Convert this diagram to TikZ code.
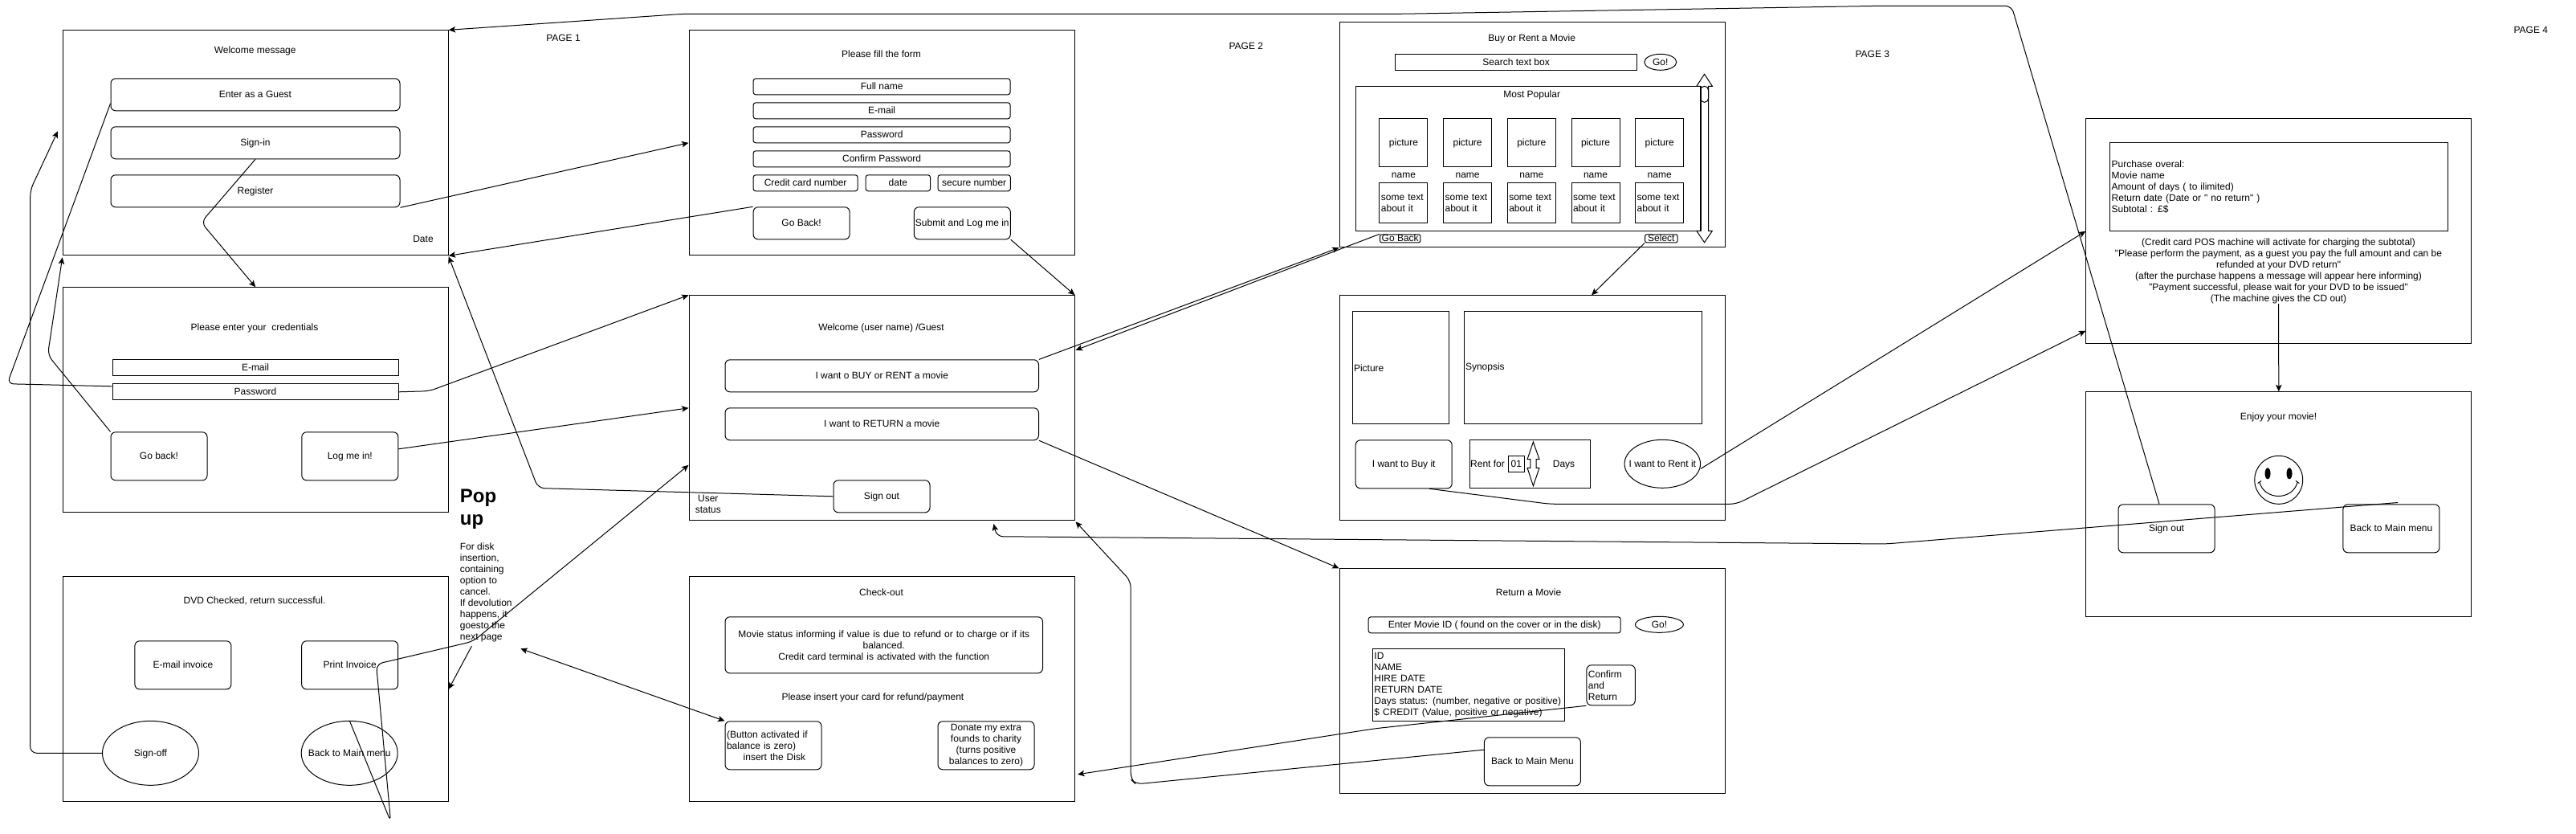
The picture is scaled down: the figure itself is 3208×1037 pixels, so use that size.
\documentclass[tikz,border=0pt]{standalone}
\usepackage{fontspec}
\usepackage{tikz}
\usetikzlibrary{arrows.meta,shapes.geometric}
\newfontfamily\uifont{Liberation Sans}

\begin{document}
\begin{tikzpicture}[x=1pt,y=-1pt,line width=1pt,>={Stealth[length=8.5pt,width=7.5pt,inset=2pt]},node distance=79.7pt,
                    every node/.style={font=\uifont\fontsize{12}{14}\selectfont,
                      inner sep=0pt,text height=9pt,text depth=1pt}]
  \tikzstyle{frame}=[draw,anchor=north west,minimum width=480pt,minimum height=280pt]
  \tikzstyle{sq}=[draw,anchor=north west]
  \tikzstyle{field}=[draw,anchor=north west,rounded corners=3pt,minimum height=20pt]
  \tikzstyle{btn}=[draw,anchor=north west,rounded corners=6pt,minimum width=120pt,minimum height=60pt]
  \tikzstyle{wide}=[btn,minimum width=360pt,minimum height=40pt]
  \tikzstyle{oval}=[draw,ellipse,minimum width=120pt,minimum height=80pt]
  \tikzstyle{para}=[text height=,text depth=]
  \tikzstyle{leftpara}=[para,align=left,inner xsep=2pt]
  \tikzstyle{cell}=[draw,minimum width=60pt,minimum height=60pt]
  \tikzstyle{note}=[draw,para,align=left,inner xsep=2pt,text width=56pt,minimum height=50pt]
  \tikzstyle{wire}=[rounded corners=8pt]
  \tikzstyle{link}=[wire,->]

  \useasboundingbox (0,0) rectangle (3208,1037);

  % page 1
  \node[frame] (welcomeframe) at (77.7,37.3) {};
  \node (welcometitle) at (317.7,62.7) {Welcome message};
  \node[wide] (guest) at (137.5,97.3) {Enter as a Guest};
  \node[wide] (signin) at (137.5,157.3) {Sign-in};
  \node[wide] (register) at (137.5,217.3) {Register};
  \node (datelabel) at (527,297.3) {Date};
  \node (pageone) at (701.5,47.7) {PAGE 1};

  \node[frame] (credframe) at (77.7,357.3) {};
  \node (credtitle) at (317,407.7) {Please enter your\ \ credentials};
  \node[sq,minimum width=356pt,minimum height=20pt] (credmail) at (139.5,447.3) {E-mail};
  \node[sq,minimum width=356pt,minimum height=20pt] (password) at (139.5,477.3) {Password};
  \node[btn] (goback) at (137.5,537.3) {Go back!};
  \node[btn] (logmein) at (375.3,537.3) {Log me in!};

  \node[para,anchor=north west,align=left,font=\uifont\bfseries\fontsize{24}{28}\selectfont] (popuphead) at (572.4,608) {Pop\\up};
  \node[leftpara,anchor=north west,inner xsep=0pt] (popuptext) at (572.4,675) {For disk\\insertion,\\containing\\option to\\cancel.\\If devolution\\happens, it\\goesto the\\next page};
  \coordinate (popupedge) at (648.3,807.3);

  \node[frame] (dvdframe) at (77.7,717.3) {};
  \node (dvdtitle) at (317,747.7) {DVD Checked, return successful.};
  \node[btn] (mailinvoice) at (167.4,797.3) {E-mail invoice};
  \node[btn] (printinvoice) at (375.2,797.3) {Print Invoice};
  \node[oval] (signoff) at (187.5,937.3) {Sign-off};
  \node[oval] (dvdback) at (435.2,937.3) {\makebox[0pt]{Back to Main menu}};

  % page 2
  \node[frame] (formframe) at (857.5,37.3) {};
  \node (formtitle) at (1097.5,67.7) {Please fill the form};
  \node[field,minimum width=320pt] (fullname) at (937.6,97.3) {Full name};
  \node[field,minimum width=320pt] (formmail) at (937.6,127.3) {E-mail};
  \node[field,minimum width=320pt] (formpass) at (937.6,157.3) {Password};
  \node[field,minimum width=320pt] (formconfirm) at (937.6,187.3) {Confirm Password};
  \node[field,minimum width=130pt] (cardnumber) at (937.6,217.3) {Credit card number};
  \node[field,minimum width=80.5pt] (carddate) at (1077.6,217.3) {date};
  \node[field,minimum width=90.4pt] (cardsecure) at (1167.5,217.3) {secure number};
  \node[btn,minimum height=40pt] (formback) at (937.6,257.3) {Go Back!};
  \node[btn,minimum height=40pt] (formsubmit) at (1137.8,257.3) {Submit and Log me in};
  \node (pagetwo) at (1551.8,57.7) {PAGE 2};

  \node[frame] (homeframe) at (857.5,367.3) {};
  \node (hometitle) at (1097.5,407.7) {Welcome (user name) /Guest};
  \node[wide,minimum width=390.5pt] (buyrent) at (902.5,447.3) {I want o BUY or RENT a movie};
  \node[wide,minimum width=390.5pt] (returnmovie) at (902.5,507.3) {I want to RETURN a movie};
  \node[btn,minimum height=40pt] (homesignout) at (1037.5,597.3) {Sign out};
  \node[para,align=center] (userstatus) at (881.8,627.7) {User\\status};

  \node[frame] (checkframe) at (857.5,717.3) {};
  \node (checktitle) at (1097.5,737.7) {Check-out};
  \node[btn,para,minimum width=395.5pt,minimum height=70pt,align=center,text width=395.5pt] (moviestatus) at (902.5,767.3) {Movie status informing if value is due to refund or to charge or if its\\balanced.\\Credit card terminal is activated with the function};
  \node (insertcard) at (1086.9,867.7) {Please insert your card for refund/payment};
  \node[btn,leftpara,text width=116pt] (insertdisk) at (902.5,897.3) {(Button activated if\\balance is zero)\\\hspace*{20.7pt}insert the Disk};
  \node[btn,para,align=center] (donate) at (1167.5,897.3) {Donate my extra\\founds to charity\\(turns positive\\balances to zero)};

  % page 3
  \node[frame] (buyframe) at (1667.5,27.3) {};
  \node (buytitle) at (1907.7,47.7) {Buy or Rent a Movie};
  \node[sq,minimum width=300.6pt,minimum height=20pt] (searchbox) at (1737.3,67.3) {Search text box};
  \node[draw,ellipse,minimum width=40pt,minimum height=20pt] (searchgo) at (2067.8,77.3) {Go!};
  \node[sq,minimum width=429.3pt,minimum height=180pt] (popularbox) at (1688.2,107.3) {};
  \node (populartitle) at (1907.7,117.7) {Most Popular};

  \node[cell] (pic1) at (1747.9,177.3) {picture};
  \node[cell] (pic2) [right of=pic1] {picture};
  \node[cell] (pic3) [right of=pic2] {picture};
  \node[cell] (pic4) [right of=pic3] {picture};
  \node[cell] (pic5) [right of=pic4] {picture};
  \node (name1) at (1747.9,217.7) {name};
  \node (name2) [right of=name1] {name};
  \node (name3) [right of=name2] {name};
  \node (name4) [right of=name3] {name};
  \node (name5) [right of=name4] {name};
  \node[note] (about1) at (1747.9,252.3) {some text\\about it};
  \node[note] (about2) [right of=about1] {some text\\about it};
  \node[note] (about3) [right of=about2] {some text\\about it};
  \node[note] (about4) [right of=about3] {some text\\about it};
  \node[note] (about5) [right of=about4] {some text\\about it};

  \draw (2122.6,92.3) -- (2132.4,107.3) -- (2127.5,107.3) -- (2127.5,287.3) -- (2132.4,287.3)
     -- (2122.6,301.7) -- (2112.8,287.3) -- (2117.7,287.3) -- (2117.7,107.3) -- (2112.8,107.3) -- cycle;
  \draw[rounded corners=4.8pt] (2117.7,107.3) rectangle (2127.5,127.3);

  \node[draw,anchor=north west,rounded corners=2pt,minimum width=50.2pt,minimum height=10pt] (listback) at (1718.1,291.3) {Go Back};
  \node[draw,anchor=north west,rounded corners=2pt,minimum width=40.3pt,minimum height=10pt] (listselect) at (2048.2,291.3) {Select};
  \node (pagethree) at (2331.8,67.7) {PAGE 3};

  \node[frame] (detailframe) at (1667.5,367.3) {};
  \node[sq,minimum width=120pt,minimum height=140pt,leftpara,text width=116pt] (detailpic) at (1683.5,387.3) {Picture};
  \node[sq,minimum width=296pt,minimum height=140pt,leftpara,text width=292pt] (synopsis) at (1822.5,387.3) {Synopsis};
  \node[btn] (buyit) at (1687.7,547.3) {I want to Buy it};
  \node[sq,minimum width=150pt,minimum height=60pt] (rentbox) at (1829.7,547.3) {};
  \node (rentfor) at (1852.5,577.3) {Rent for};
  \node[sq,minimum width=20pt,minimum height=20pt] (rentdays) at (1877.8,567.3) {01};
  \node (daysword) at (1947.5,577.3) {Days};
  \draw (1909.4,550) -- (1917,571.7) -- (1913,571.7) -- (1913,582.3) -- (1917,582.3)
     -- (1909.4,604.7) -- (1902,582.3) -- (1905.8,582.3) -- (1905.8,571.7) -- (1902,571.7) -- cycle;
  \node[oval,minimum width=94.5pt,minimum height=60pt] (rentit) at (2070.3,577.3) {\makebox[0pt]{I want to Rent it}};

  \node[frame] (returnframe) at (1667.5,707.3) {};
  \node (returntitle) at (1903.6,737.7) {Return a Movie};
  \node[field,minimum width=314pt] (movieid) at (1703.7,767.3) {Enter Movie ID ( found on the cover or in the disk)};
  \node[draw,ellipse,minimum width=60pt,minimum height=20pt] (returngo) at (2066.4,777.3) {Go!};
  \node[sq,leftpara,text width=235pt,minimum height=90pt] (moviedata) at (1708.9,807.3) {ID\\NAME\\HIRE DATE\\RETURN DATE\\Days status: (number, negative or positive)\\\$ CREDIT (Value, positive or negative)};
  \node[field,leftpara,text width=56.4pt,rounded corners=6pt,minimum height=50pt] (confirm) at (1975.4,827.3) {Confirm\\and\\Return};
  \node[btn] (returnback) at (1847.9,917.3) {Back to Main Menu};

  % page 4
  \node[frame] (payframe) at (2597.3,147.3) {};
  \node[sq,leftpara,text width=416.5pt,minimum height=110pt] (overall) at (2627.2,177.3) {Purchase overal:\\Movie name\\Amount of days ( to ilimited)\\Return date (Date or " no return" )\\Subtotal : £\$};
  \node[para,align=center] (paytext) at (2837.5,336.9) {(Credit card POS machine will activate for charging the subtotal)\\"Please perform the payment, as a guest you pay the full amount and can be\\refunded at your DVD return"\\(after the purchase happens a message will appear here informing)\\"Payment successful, please wait for your DVD to be issued"\\(The machine gives the CD out)};
  \node (pagefour) at (3151.8,37.7) {PAGE 4};

  \node[frame] (enjoyframe) at (2597.3,487.3) {};
  \node (enjoytitle) at (2837.5,518) {Enjoy your movie!};
  \node[draw,ellipse,minimum width=60pt,minimum height=60pt] (smiley) at (2837.7,597.3) {};
  \fill (2824,589.3) ellipse (3.5 and 7);
  \fill (2851,589.3) ellipse (3.5 and 7);
  \draw (2813.8,600) .. controls (2820,623.3) and (2855,623.3) .. (2861.2,600);
  \draw (2811.6,601.5) -- (2816,598.5);
  \draw (2859,598.5) -- (2863.4,601.5);
  \node[btn] (enjoysignout) at (2637.5,627.3) {Sign out};
  \node[btn] (enjoyback) at (2917.4,627.3) {Back to Main menu};
  \coordinate (enjoybackend) at (2986,625.5);

  % connectors
  \draw[link] ([xshift=-9pt]enjoysignout.north) -- (2505,7.3) -- (2343,7.3) -- (1744,17.3)
     -- (851,17.3) -- (welcomeframe.north east);
  \draw[wire] ([yshift=7pt]password.west) -- (9,477.7) -- ([yshift=-11pt]guest.west);
  \draw[link] (signin.south) -- (250.5,276.7) -- (credframe.north);
  \draw[link] (register.south east) -- (formframe.west);
  \draw[link] (formback.north west) -- (welcomeframe.south east);
  \draw[link] (password.east) -- (534.7,486.7) -- (homeframe.north west);
  \draw[link] ([yshift=9pt]logmein.east) -- (homeframe.west);
  \draw[link] (homesignout.west) -- (670,607.5) -- ([yshift=-1pt]welcomeframe.south east);
  \draw[link] (goback.north west) -- (59.4,441.7) -- ([yshift=-2pt]welcomeframe.south west);
  \draw[link] (signoff.west) -- (37.7,937.3) -- (37.7,236.7) -- ([xshift=-5.7pt,yshift=14.6pt]welcomeframe.west);
  \draw[link] (dvdback.north) -- (486.6,1022.7) -- (468.5,826.6) -- (589,798.3) -- ([yshift=-71pt]homeframe.west);
  \draw[->] ([xshift=15pt,yshift=-5pt]popuptext.south west) -- (dvdframe.east);
  \draw[<->] (popupedge) -- (insertdisk.north west);
  \draw[link] (formsubmit.south east) -- (homeframe.north east);
  \draw[->] (buyrent.north east) -- (buyframe.south west);
  \draw[->] (listback.north west) -- ([xshift=1pt,yshift=72pt]homeframe.east);
  \draw[->] (listselect.south west) -- ([xshift=74pt]detailframe.north);
  \draw[->] ([yshift=-6pt]rentit.east) -- (payframe.west);
  \draw[link] ([xshift=32pt]buyit.south) -- (1930,627.3) -- (2162.4,627.3) -- ([yshift=16.6pt]payframe.south west);
  \draw[->] (paytext.south) -- (enjoyframe.north);
  \draw[link] (enjoybackend) -- (2348.4,677) -- (1241,667.7) -- ([xshift=139.5pt,yshift=-3.7pt]homeframe.south);
  \draw[->] (returnmovie.south east) -- (returnframe.north west);
  \draw[link] (confirm.south west) -- (1713,906.7) -- ([xshift=3.5pt,yshift=-106pt]checkframe.east);
  \draw[link] ([yshift=14.6pt]returnback.west) -- (1414.4,976) -- (1408.2,970) -- (1408.2,723.3) -- ([xshift=1pt,yshift=-1pt]homeframe.south east);
\end{tikzpicture}
\end{document}
